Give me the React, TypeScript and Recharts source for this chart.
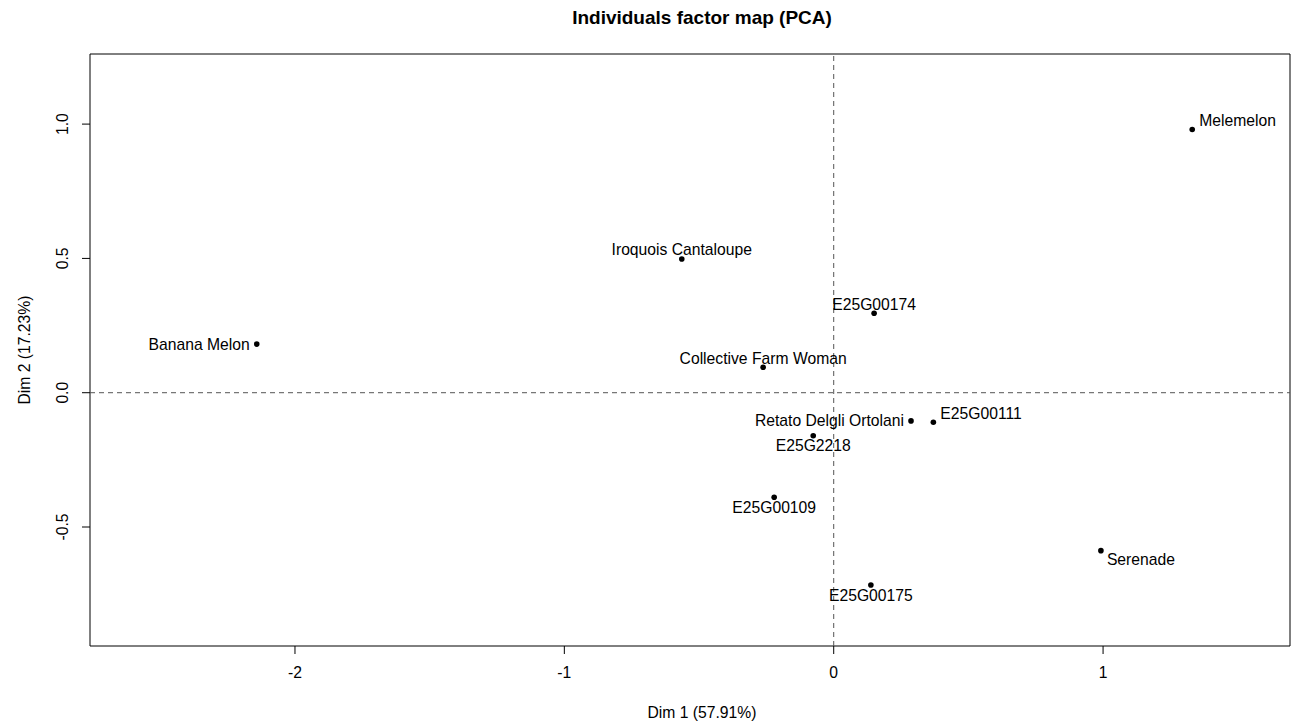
import React from 'react';
import {
  ScatterChart,
  Scatter,
  XAxis,
  YAxis,
  ReferenceLine,
  ReferenceArea,
} from 'recharts';

// ---- data ----
const names = [
  'Melemelon',
  'Iroquois Cantaloupe',
  'E25G00174',
  'Banana Melon',
  'Collective Farm Woman',
  'Retato Delgli Ortolani',
  'E25G00111',
  'E25G2218',
  'E25G00109',
  'Serenade',
  'E25G00175',
];
const dim1 = [1.331, -0.564, 0.15, -2.142, -0.262, 0.287, 0.37, -0.076, -0.221, 0.992, 0.138];
const dim2 = [0.98, 0.498, 0.296, 0.181, 0.095, -0.105, -0.11, -0.16, -0.389, -0.588, -0.716];
const labelSide = [
  'right-top',
  'top',
  'top',
  'left',
  'top',
  'left',
  'right-top',
  'bottom',
  'bottom',
  'right-bottom',
  'bottom',
];
const xTicks = [-2, -1, 0, 1];
const yTicks = [-0.5, 0, 0.5, 1];
const xDomain = [-2.761, 1.694];
const yDomain = [-0.943, 1.261];

const data = names.map((n, i) => ({ name: n, x: dim1[i], y: dim2[i], side: labelSide[i] }));

const FONT = '"Liberation Sans", Arial, Helvetica, sans-serif';
const FS = 15.7;

const PointShape = (props: any) => {
  const { cx, cy, payload } = props;
  if (cx == null || cy == null) return null;
  let dx = 0;
  let dy = 0;
  let anchor: 'start' | 'middle' | 'end' = 'middle';
  switch (payload.side) {
    case 'top':
      dy = -9;
      break;
    case 'bottom':
      dy = 10;
      break;
    case 'left':
      anchor = 'end';
      dx = -7;
      break;
    case 'right-top':
      anchor = 'start';
      dx = 7;
      dy = -9;
      break;
    case 'right-bottom':
      anchor = 'start';
      dx = 6;
      dy = 9;
      break;
  }
  return (
    <g>
      <circle cx={cx} cy={cy} r={2.8} fill="#000" />
      <text
        x={cx + dx}
        y={cy + dy}
        textAnchor={anchor}
        dominantBaseline="central"
        fontFamily={FONT}
        fontSize={FS}
        fill="#000"
      >
        {payload.name}
      </text>
    </g>
  );
};

const YTick = (props: any) => {
  const { x, y, payload } = props;
  return (
    <text
      transform={`translate(${x},${y}) rotate(-90)`}
      textAnchor="middle"
      fontFamily={FONT}
      fontSize={FS}
      fill="#000"
    >
      {Number(payload.value).toFixed(1)}
    </text>
  );
};

export default function App() {
  return (
    <div
      style={{
        position: 'absolute',
        left: 0,
        top: 0,
        width: 1301,
        height: 725,
        background: '#fff',
        fontFamily: FONT,
      }}
    >
      <ScatterChart
        width={1301}
        height={725}
        margin={{ top: 54, right: 11, bottom: 29, left: 30 }}
      >
        <XAxis
          type="number"
          dataKey="x"
          domain={xDomain}
          allowDataOverflow
          ticks={xTicks}
          tickFormatter={(v: number) => String(v)}
          axisLine={false}
          tickLine={{ stroke: '#000' }}
          tickSize={8}
          tickMargin={13}
          height={50}
          tick={{ fill: '#000', fontSize: FS, fontFamily: FONT }}
        />
        <YAxis
          type="number"
          dataKey="y"
          domain={yDomain}
          allowDataOverflow
          ticks={yTicks}
          axisLine={false}
          tickLine={{ stroke: '#000' }}
          tickSize={8}
          tickMargin={14}
          width={60}
          tick={<YTick />}
        />
        <ReferenceArea
          x1={xDomain[0]}
          x2={xDomain[1]}
          y1={yDomain[0]}
          y2={yDomain[1]}
          fill="none"
          fillOpacity={0}
          stroke="#000"
          strokeWidth={1}
          ifOverflow="visible"
        />
        <ReferenceLine x={0} stroke="#555" strokeDasharray="5 4" />
        <ReferenceLine y={0} stroke="#555" strokeDasharray="5 4" />
        <Scatter data={data} isAnimationActive={false} shape={<PointShape />} />
      </ScatterChart>
      <div
        style={{
          position: 'absolute',
          left: 702,
          top: 18,
          transform: 'translate(-50%, -50%)',
          fontWeight: 'bold',
          fontSize: 19,
          whiteSpace: 'nowrap',
          color: '#000',
        }}
      >
        Individuals factor map (PCA)
      </div>
      <div
        style={{
          position: 'absolute',
          left: 702,
          top: 713,
          transform: 'translate(-50%, -50%)',
          fontSize: FS,
          whiteSpace: 'nowrap',
          color: '#000',
        }}
      >
        Dim 1 (57.91%)
      </div>
      <div
        style={{
          position: 'absolute',
          left: 25,
          top: 350,
          transform: 'translate(-50%, -50%) rotate(-90deg)',
          fontSize: FS,
          whiteSpace: 'nowrap',
          color: '#000',
        }}
      >
        Dim 2 (17.23%)
      </div>
    </div>
  );
}
